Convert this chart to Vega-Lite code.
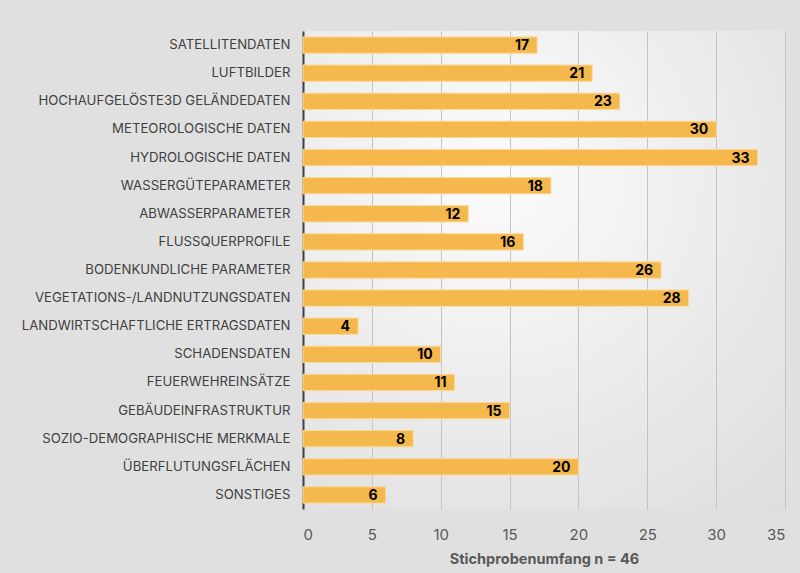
{
  "$schema": "https://vega.github.io/schema/vega-lite/v6.json",
  "width": 482,
  "height": 478,
  "autosize": {"type": "none"},
  "padding": {"left": 303, "top": 31, "right": 15, "bottom": 64},
  "background": "#e0e0e0",
  "config": {
    "font": "Inter",
    "view": {
      "stroke": null,
      "fill": {
        "gradient": "radial",
        "x1": 0.4, "y1": 0.3, "r1": 0,
        "x2": 0.4, "y2": 0.3, "r2": 0.9,
        "stops": [
          {"offset": 0, "color": "#fcfcfc"},
          {"offset": 1, "color": "#dedede"}
        ]
      }
    }
  },
  "data": {
    "values": [
      {"kategorie": "SATELLITENDATEN", "n": 17},
      {"kategorie": "LUFTBILDER", "n": 21},
      {"kategorie": "HOCHAUFGELÖSTE3D GELÄNDEDATEN", "n": 23},
      {"kategorie": "METEOROLOGISCHE DATEN", "n": 30},
      {"kategorie": "HYDROLOGISCHE DATEN", "n": 33},
      {"kategorie": "WASSERGÜTEPARAMETER", "n": 18},
      {"kategorie": "ABWASSERPARAMETER", "n": 12},
      {"kategorie": "FLUSSQUERPROFILE", "n": 16},
      {"kategorie": "BODENKUNDLICHE PARAMETER", "n": 26},
      {"kategorie": "VEGETATIONS-/LANDNUTZUNGSDATEN", "n": 28},
      {"kategorie": "LANDWIRTSCHAFTLICHE ERTRAGSDATEN", "n": 4},
      {"kategorie": "SCHADENSDATEN", "n": 10},
      {"kategorie": "FEUERWEHREINSÄTZE", "n": 11},
      {"kategorie": "GEBÄUDEINFRASTRUKTUR", "n": 15},
      {"kategorie": "SOZIO-DEMOGRAPHISCHE MERKMALE", "n": 8},
      {"kategorie": "ÜBERFLUTUNGSFLÄCHEN", "n": 20},
      {"kategorie": "SONSTIGES", "n": 6}
    ]
  },
  "encoding": {
    "y": {
      "field": "kategorie",
      "type": "nominal",
      "sort": null,
      "scale": {"paddingInner": 0.42, "paddingOuter": 0.21},
      "axis": {
        "title": null,
        "ticks": false,
        "domain": true,
        "domainColor": "#404040",
        "domainWidth": 2,
        "labelFontSize": 13.2,
        "labelColor": "#404040",
        "labelPadding": 13,
        "labelLimit": 400
      }
    },
    "x": {
      "field": "n",
      "type": "quantitative",
      "scale": {"domain": [0, 35], "nice": false},
      "axis": {
        "values": [0, 5, 10, 15, 20, 25, 30, 35],
        "title": "Stichprobenumfang n = 46",
        "titleFontSize": 14.5,
        "titleFontWeight": "bold",
        "titleColor": "#595959",
        "titlePadding": 10,
        "domain": false,
        "ticks": false,
        "grid": true,
        "gridColor": "#c4c4c4",
        "gridWidth": 1,
        "labelFontSize": 15,
        "labelColor": "#595959",
        "labelPadding": 18,
        "labelFont": "Inter"
      }
    }
  },
  "layer": [
    {
      "mark": {"type": "bar", "color": "#F5B84C", "stroke": "#FBD99A", "strokeWidth": 1}
    },
    {
      "mark": {"type": "text", "align": "right", "baseline": "middle", "dx": -8, "dy": 1, "fontSize": 14, "fontWeight": "bold", "color": "#000000"},
      "encoding": {"text": {"field": "n", "type": "quantitative"}}
    }
  ]
}
